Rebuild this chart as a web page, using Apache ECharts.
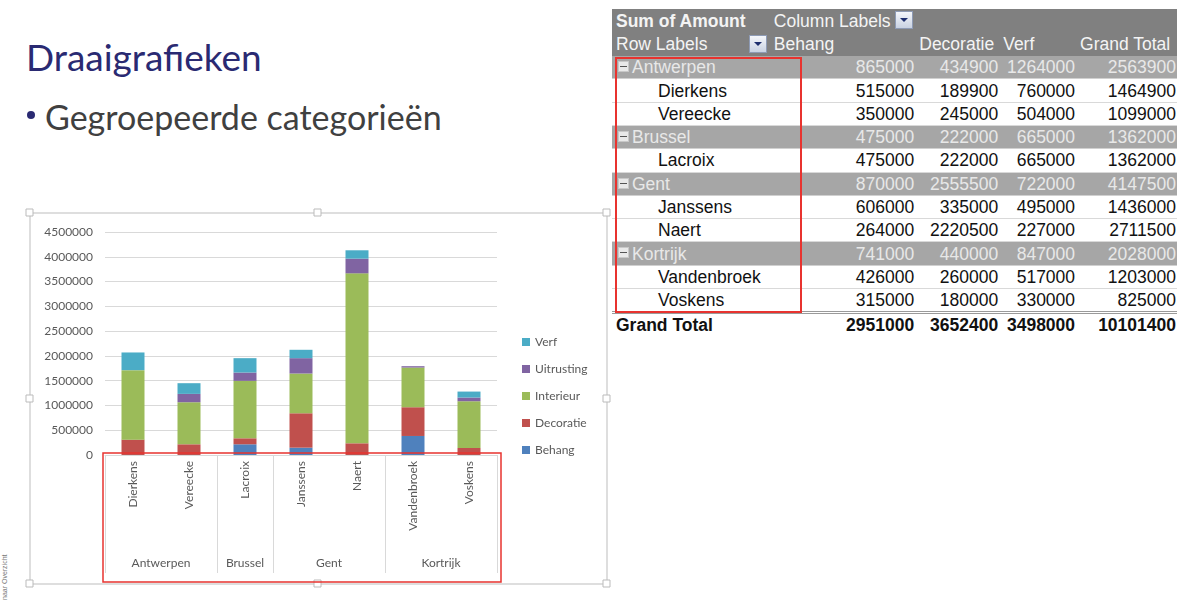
<!DOCTYPE html>
<html>
<head>
<meta charset="utf-8">
<title>Draaigrafieken</title>
<script src="https://cdn.jsdelivr.net/npm/echarts@6/dist/echarts.min.js"></script>
<style>
  html, body { margin: 0; padding: 0; background: #fff; }
  #page { position: relative; width: 1177px; height: 608px; overflow: hidden; }
  #chart { position: absolute; left: 0; top: 0; width: 612px; height: 608px; }
  .title { position: absolute; left: 26px; top: 34px; font-family: Lato, sans-serif; font-size: 37px; color: #2a2a72; line-height: 46px; }
  .bullet { position: absolute; left: 45px; top: 96px; font-family: Lato, sans-serif; font-size: 34px; color: #404040; line-height: 42px; }
  .dot { position: absolute; left: 27px; top: 111px; width: 8px; height: 8px; border-radius: 50%; background: #2a2a72; }
  .side { position: absolute; left: 1px; top: 600px; font-family: 'Liberation Sans', sans-serif; font-size: 7px; color: #777;
          transform: rotate(-90deg); transform-origin: 0 0; white-space: nowrap; }
  #pivot { position: absolute; left: 612px; top: 9px; border-collapse: collapse; table-layout: fixed;
           font-family: 'Liberation Sans', Arial, sans-serif; font-size: 17.5px; }
  #pivot td { height: 23.3px; padding: 0 2px 0 4px; white-space: nowrap; overflow: hidden; line-height: 22px; box-sizing: border-box; }
  #pivot tr.hd td { background: #808080; color: #f4f4f4; }
  #pivot tr.grp td { background: #a6a6a6; color: #e8e8e8; border-bottom: 1px solid #d0d0d0; }
  #pivot tr.row td { background: #fff; color: #111; border-bottom: 1px solid #d9d9d9; }
  #pivot tr.tot td { color: #111; font-weight: bold; border-top: 3px double #9a9a9a; }
  #pivot td.num { text-align: right; padding-right: 1px; }
  .dd { display: inline-block; width: 18px; height: 18px; background: linear-gradient(#f4f6fa, #c9d2e2); border: 1px solid #8e9bb5;
        box-sizing: border-box; vertical-align: middle; position: relative; top: -2px; }
  .dd:after { content: ''; position: absolute; left: 4px; top: 6px; border-left: 4px solid transparent; border-right: 4px solid transparent;
              border-top: 4px solid #1e2f6e; }
  .dd.r { float: right; top: 2px; margin-right: 1px; }
  .mn { display: inline-block; width: 11px; height: 11px; background: #e9e9e9; border: 1px solid #c8c8c8; box-sizing: border-box;
        vertical-align: middle; position: relative; top: -2px; margin: 0 3px 0 2px; }
  .mn:after { content: ''; position: absolute; left: 1px; top: 4px; width: 7px; height: 1px; background: #555; }
  .redbox { position: absolute; z-index: 10; left: 615px; top: 57px; width: 187px; height: 256px;
            border: 2px solid #e8332f; box-sizing: border-box; }
</style>
</head>
<body>
<div id="page">
  <div class="title">Draaigrafieken</div>
  <div class="dot"></div>
  <div class="bullet">Gegroepeerde categorieën</div>
  <div class="side">naar Overzicht</div>
  <div id="chart"></div>
  <table id="pivot"></table>
  <div class="redbox"></div>
</div>
<script>
// verkopers en hun groep (stad)
var names = ['Dierkens', 'Vereecke', 'Lacroix', 'Janssens', 'Naert', 'Vandenbroek', 'Voskens'];
var groups = ['Antwerpen', 'Brussel', 'Gent', 'Kortrijk'];
var groupSizes = [2, 1, 2, 2];

// waarden
var behang = [0, 0, 216000, 148000, 0, 384000, 0];
var decoratie = [310000, 216000, 121000, 694000, 236000, 580000, 142000];
var interieur = [1402000, 849000, 1159000, 802000, 3430000, 801000, 943000];
var uitrusting = [0, 168000, 168000, 310000, 296000, 27000, 74000];
var verf = [357000, 216000, 290000, 169000, 169000, 0, 121000];

var seriesNames = ['Behang', 'Decoratie', 'Interieur', 'Uitrusting', 'Verf'];
var colors = ['#4f81bd', '#c0504d', '#9bbb59', '#8064a2', '#4bacc6'];

// draaitabel
var tableCols = ['Behang', 'Decoratie', 'Verf', 'Grand Total'];
var tableGroups = ['Antwerpen', 'Brussel', 'Gent', 'Kortrijk'];
var tableGroupTotals = [
  [865000, 434900, 1264000, 2563900],
  [475000, 222000, 665000, 1362000],
  [870000, 2555500, 722000, 4147500],
  [741000, 440000, 847000, 2028000]
];
var tableRowNames = [['Dierkens', 'Vereecke'], ['Lacroix'], ['Janssens', 'Naert'], ['Vandenbroek', 'Voskens']];
var tableRows = [
  [[515000, 189900, 760000, 1464900], [350000, 245000, 504000, 1099000]],
  [[475000, 222000, 665000, 1362000]],
  [[606000, 335000, 495000, 1436000], [264000, 2220500, 227000, 2711500]],
  [[426000, 260000, 517000, 1203000], [315000, 180000, 330000, 825000]]
];
var grandTotal = [2951000, 3652400, 3498000, 10101400];

function buildTable() {
  var w = [158, 147, 84, 77, 101];
  var h = '<colgroup>';
  w.forEach(function (x) { h += '<col style="width:' + x + 'px">'; });
  h += '</colgroup>';
  h += '<tr class="hd"><td style="font-weight:bold">Sum of Amount</td><td colspan="4">Column Labels <span class="dd"></span></td></tr>';
  h += '<tr class="hd"><td>Row Labels<span class="dd r"></span></td>';
  tableCols.forEach(function (c) { h += '<td>' + c + '</td>'; });
  h += '</tr>';
  tableGroups.forEach(function (g, gi) {
    h += '<tr class="grp"><td><span class="mn"></span>' + g + '</td>';
    tableGroupTotals[gi].forEach(function (v) { h += '<td class="num">' + v + '</td>'; });
    h += '</tr>';
    tableRowNames[gi].forEach(function (n, ri) {
      h += '<tr class="row"><td style="padding-left:46px">' + n + '</td>';
      tableRows[gi][ri].forEach(function (v) { h += '<td class="num">' + v + '</td>'; });
      h += '</tr>';
    });
  });
  h += '<tr class="tot"><td>Grand Total</td>';
  grandTotal.forEach(function (v) { h += '<td class="num">' + v + '</td>'; });
  h += '</tr>';
  document.getElementById('pivot').innerHTML = h;
}
buildTable();

// tweede x-as: halve stappen, zodat groepsnamen en scheidingslijnen op grenzen vallen
var halfData = [];
var groupLabelAt = {};
var separatorAt = { 0: true };
var pos = 0;
for (var i = 0; i < names.length * 2 + 1; i++) halfData.push(String(i));
groups.forEach(function (g, gi) {
  groupLabelAt[pos * 2 + groupSizes[gi]] = g;
  pos += groupSizes[gi];
  separatorAt[pos * 2] = true;
});

var allData = [behang, decoratie, interieur, uitrusting, verf];
var chartFont = 'Lato, "Open Sans", sans-serif';

var myChart = echarts.init(document.getElementById('chart'));
myChart.setOption({
  animation: false,
  color: colors,
  textStyle: { fontFamily: chartFont },
  grid: { left: 105, top: 232, width: 392, height: 223 },
  legend: {
    orient: 'vertical', left: 522, top: 336, padding: 0,
    itemWidth: 8, itemHeight: 8, itemGap: 15, icon: 'rect',
    textStyle: { fontSize: 12, color: '#595959', fontFamily: chartFont },
    data: seriesNames.slice().reverse()
  },
  xAxis: [{
    type: 'category',
    data: names,
    axisLine: { lineStyle: { color: '#d9d9d9' } },
    axisTick: { show: false },
    axisLabel: { rotate: 90, margin: 6, interval: 0, fontSize: 12, color: '#595959' }
  }, {
    type: 'category',
    position: 'bottom',
    boundaryGap: false,
    data: halfData,
    axisLine: { show: false },
    axisTick: {
      show: true, length: 118,
      interval: function (idx) { return !!separatorAt[idx]; },
      lineStyle: { color: '#d9d9d9' }
    },
    axisLabel: {
      margin: 102, interval: 0, fontSize: 12, color: '#595959',
      formatter: function (v, idx) { return groupLabelAt[idx] || ''; }
    }
  }],
  yAxis: {
    type: 'value', min: 0, max: 4500000, interval: 500000,
    axisLine: { show: false },
    axisTick: { show: false },
    splitLine: { lineStyle: { color: '#d9d9d9' } },
    axisLabel: { margin: 12, fontSize: 12, color: '#595959', formatter: function (v) { return String(v); } }
  },
  series: seriesNames.map(function (n, si) {
    return { name: n, type: 'bar', stack: 'totaal', barWidth: 23, xAxisIndex: 0, data: allData[si] };
  }),
  graphic: [
    { type: 'rect', shape: { x: 30, y: 213, width: 577, height: 371 }, style: { fill: 'none', stroke: '#d4d4d4', lineWidth: 1.5 }, silent: true },
    { type: 'rect', shape: { x: 26, y: 209, width: 7, height: 7 }, style: { fill: '#fff', stroke: '#bbb' } },
    { type: 'rect', shape: { x: 314, y: 209, width: 7, height: 7 }, style: { fill: '#fff', stroke: '#bbb' } },
    { type: 'rect', shape: { x: 603, y: 209, width: 7, height: 7 }, style: { fill: '#fff', stroke: '#bbb' } },
    { type: 'rect', shape: { x: 26, y: 395, width: 7, height: 7 }, style: { fill: '#fff', stroke: '#bbb' } },
    { type: 'rect', shape: { x: 603, y: 395, width: 7, height: 7 }, style: { fill: '#fff', stroke: '#bbb' } },
    { type: 'rect', shape: { x: 26, y: 580, width: 7, height: 7 }, style: { fill: '#fff', stroke: '#bbb' } },
    { type: 'rect', shape: { x: 314, y: 580, width: 7, height: 7 }, style: { fill: '#fff', stroke: '#bbb' } },
    { type: 'rect', shape: { x: 603, y: 580, width: 7, height: 7 }, style: { fill: '#fff', stroke: '#bbb' } },
    { type: 'rect', z: 100, shape: { x: 103, y: 453, width: 398, height: 129 }, style: { fill: 'none', stroke: '#e8332f', lineWidth: 1.5 }, silent: true }
  ]
});
</script>
</body>
</html>
